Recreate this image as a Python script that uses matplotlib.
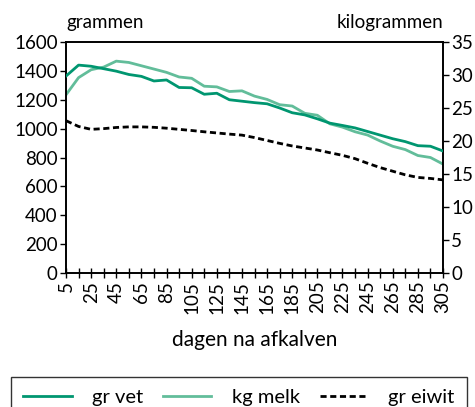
import matplotlib
matplotlib.use("Agg")
import matplotlib.pyplot as plt
from matplotlib.ticker import MultipleLocator, FixedLocator

plt.rcParams['font.family'] = ['Lato', 'DejaVu Sans']

# days after calving
days = list(range(5, 306, 10))

# fat, grams per day (left axis)
gr_vet = [1364, 1440, 1432, 1415, 1398, 1375, 1362, 1330, 1337, 1285, 1283,
          1238, 1245, 1200, 1190, 1180, 1172, 1143, 1110, 1095, 1068, 1038,
          1022, 1005, 980, 955, 930, 910, 882, 878, 845]

# milk, kg per day (right axis)
kg_melk = [27.0, 29.6, 30.8, 31.2, 32.1, 31.9, 31.4, 30.9, 30.4, 29.7, 29.5,
           28.3, 28.2, 27.5, 27.6, 26.8, 26.3, 25.5, 25.3, 24.2, 23.9, 22.6,
           22.1, 21.4, 20.9, 20.0, 19.2, 18.7, 17.8, 17.5, 16.5]

# protein, grams per day (left axis)
gr_eiwit = [1055, 1015, 995, 1000, 1008, 1012, 1012, 1009, 1003, 995, 987,
            978, 970, 962, 955, 938, 918, 898, 880, 866, 852, 833, 815, 792,
            760, 730, 705, 680, 662, 655, 645]

C_VET = '#009670'
C_MELK = '#62BD9A'

fig = plt.figure(figsize=(4.75, 4.07), dpi=100)
ax = fig.add_axes([66 / 475, 1 - 273 / 407, (443 - 66) / 475, (273 - 42) / 407])
ax2 = ax.twinx()

l1, = ax.plot(days, gr_vet, color=C_VET, lw=2.0, label='gr vet', zorder=3)
l3, = ax.plot(days, gr_eiwit, color='black', lw=2.0, ls=(0, (2.2, 1.3)),
              label='gr eiwit', zorder=3)
l2, = ax2.plot(days, kg_melk, color=C_MELK, lw=2.0, label='kg melk')

ax.set_xlim(5, 305)
ax.set_ylim(0, 1600)
ax2.set_ylim(0, 35)
ax.set_zorder(ax2.get_zorder() + 1)
ax.patch.set_visible(False)

ax.xaxis.set_major_locator(FixedLocator(list(range(5, 306, 20))))
ax.xaxis.set_minor_locator(FixedLocator(list(range(15, 306, 20))))
ax.yaxis.set_major_locator(MultipleLocator(200))
ax2.yaxis.set_major_locator(MultipleLocator(5))

fs = 13.5
ax.tick_params(axis='x', which='both', direction='inout', length=7, width=1,
               labelsize=fs, labelrotation=90, pad=2)
ax.tick_params(axis='y', direction='out', length=4, width=1, labelsize=fs, pad=2)
ax2.tick_params(axis='y', direction='out', length=4, width=1, labelsize=fs, pad=2)

for a in (ax, ax2):
    for s in a.spines.values():
        s.set_linewidth(1.2)
        s.set_color('black')

ax.set_xlabel('dagen na afkalven', fontsize=fs + 1.5, labelpad=12)
fig.text(66 / 475, 1 - 28 / 407, 'grammen', fontsize=fs, ha='left', va='baseline')
fig.text(443 / 475, 1 - 28 / 407, 'kilogrammen', fontsize=fs, ha='right', va='baseline')

leg = fig.legend([l1, l2, l3], ['gr vet', 'kg melk', 'gr eiwit'], ncol=3,
                 loc='upper center', bbox_to_anchor=(239 / 475, 1 - 377 / 407),
                 fontsize=fs + 1, frameon=True, fancybox=False, edgecolor='black',
                 handlelength=2.4, handletextpad=1.0, columnspacing=1.0,
                 borderpad=0.6, borderaxespad=0)
leg.get_frame().set_linewidth(1.0)

fig.savefig('out.png', dpi=100)
